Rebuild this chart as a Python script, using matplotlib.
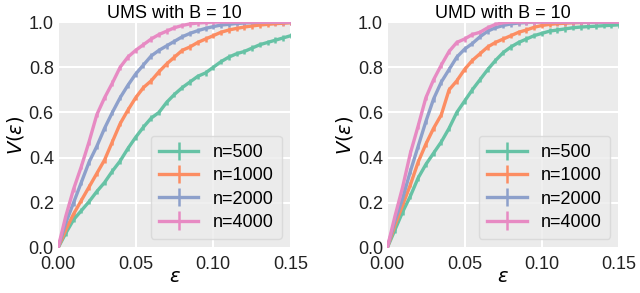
import numpy as np
import matplotlib
matplotlib.use("Agg")
import matplotlib.pyplot as plt

eps = [i * 0.005 for i in range(31)]

ums_500 = [0, 0.065, 0.125, 0.165, 0.205, 0.25, 0.29, 0.34, 0.385, 0.44, 0.49, 0.535, 0.575, 0.60,
           0.645, 0.68, 0.71, 0.735, 0.76, 0.775, 0.80, 0.825, 0.845, 0.86, 0.87, 0.885, 0.90, 0.91,
           0.92, 0.93, 0.94]
ums_1000 = [0, 0.08, 0.15, 0.21, 0.27, 0.33, 0.39, 0.47, 0.55, 0.61, 0.665, 0.71, 0.74, 0.78,
            0.815, 0.845, 0.875, 0.89, 0.91, 0.925, 0.94, 0.955, 0.965, 0.972, 0.978, 0.983, 0.987,
            0.99, 0.993, 0.995, 0.997]
ums_2000 = [0, 0.11, 0.20, 0.29, 0.38, 0.45, 0.53, 0.60, 0.665, 0.72, 0.77, 0.81, 0.85, 0.875,
            0.895, 0.915, 0.935, 0.95, 0.962, 0.972, 0.98, 0.987, 0.99, 0.994, 0.996, 0.998, 0.999,
            1.0, 1.0, 1.0, 1.0]
ums_4000 = [0, 0.14, 0.26, 0.36, 0.47, 0.59, 0.665, 0.73, 0.80, 0.845, 0.875, 0.90, 0.925, 0.945,
            0.96, 0.975, 0.985, 0.992, 0.996, 0.998, 1.0, 1.0, 1.0, 1.0, 1.0, 1.0, 1.0, 1.0, 1.0,
            1.0, 1.0]

umd_500 = [0, 0.08, 0.16, 0.23, 0.31, 0.37, 0.42, 0.47, 0.53, 0.60, 0.65, 0.70, 0.745, 0.79,
           0.83, 0.865, 0.89, 0.91, 0.925, 0.94, 0.95, 0.96, 0.965, 0.97, 0.975, 0.978, 0.98, 0.982,
           0.984, 0.986, 0.988]
umd_1000 = [0, 0.10, 0.19, 0.28, 0.38, 0.46, 0.53, 0.59, 0.70, 0.74, 0.79, 0.83, 0.86, 0.89,
            0.91, 0.925, 0.94, 0.955, 0.965, 0.977, 0.985, 0.99, 0.993, 0.995, 0.997, 0.998, 0.999,
            1.0, 1.0, 1.0, 1.0]
umd_2000 = [0, 0.12, 0.22, 0.34, 0.45, 0.56, 0.66, 0.735, 0.79, 0.845, 0.88, 0.905, 0.935, 0.96,
            0.975, 0.985, 0.992, 0.996, 0.998, 1.0, 1.0, 1.0, 1.0, 1.0, 1.0, 1.0, 1.0, 1.0, 1.0,
            1.0, 1.0]
umd_4000 = [0, 0.14, 0.27, 0.42, 0.54, 0.665, 0.745, 0.81, 0.87, 0.91, 0.925, 0.945, 0.955, 0.975,
            0.99, 0.997, 1.0, 1.0, 1.0, 1.0, 1.0, 1.0, 1.0, 1.0, 1.0, 1.0, 1.0, 1.0, 1.0, 1.0, 1.0]

labels = ["n=500", "n=1000", "n=2000", "n=4000"]
titles = ["UMS with B = 10", "UMD with B = 10"]
x_ticks = [0.00, 0.05, 0.10, 0.15]
y_ticks = [0.0, 0.2, 0.4, 0.6, 0.8, 1.0]
err = 0.012

colors = ["#66c2a5", "#fc8d62", "#8da0cb", "#e78ac3"]

plt.rcParams['font.family'] = ['Liberation Sans', 'DejaVu Sans']
plt.rcParams['mathtext.fontset'] = 'dejavusans'

fig = plt.figure(figsize=(6.4, 2.93), dpi=100)
axes = [fig.add_axes([0.0906, 0.1536, 0.364, 0.771]),
        fig.add_axes([0.605, 0.1536, 0.3625, 0.771])]

data = [[ums_500, ums_1000, ums_2000, ums_4000], [umd_500, umd_1000, umd_2000, umd_4000]]

for ax, series, title in zip(axes, data, titles):
    ax.set_facecolor("#EBEBEB")
    for s in ax.spines.values():
        s.set_visible(False)
    ax.grid(True, color="white", linewidth=1.5)
    ax.set_axisbelow(True)
    for vals, c, lab in zip(series, colors, labels):
        ax.errorbar(eps, vals, yerr=err, color=c, linewidth=2.4, elinewidth=1.8, label=lab)
    ax.set_xlim(0, 0.15)
    ax.set_ylim(0, 1.0)
    ax.set_xticks(x_ticks)
    ax.set_yticks(y_ticks)
    ax.set_xticklabels([f"{t:.2f}" for t in x_ticks])
    ax.set_yticklabels([f"{t:.1f}" for t in y_ticks])
    ax.tick_params(length=0, labelsize=13, colors="#222222", pad=3)
    ax.tick_params(axis="x", pad=6)
    ax.set_title(title, fontsize=13, pad=1)
    ax.set_xlabel(r"$\varepsilon$", fontsize=14, labelpad=-3)
    ax.set_ylabel(r"$V(\varepsilon)$", fontsize=14, labelpad=2)
    leg = ax.legend(loc="lower right", fontsize=13, frameon=True, facecolor="#EBEBEB",
                    edgecolor="#D6D6D6", framealpha=0.8, handlelength=2.2,
                    borderaxespad=0.5, labelspacing=0.35, handletextpad=0.8, borderpad=0.45)

fig.savefig("out.png", dpi=100)
